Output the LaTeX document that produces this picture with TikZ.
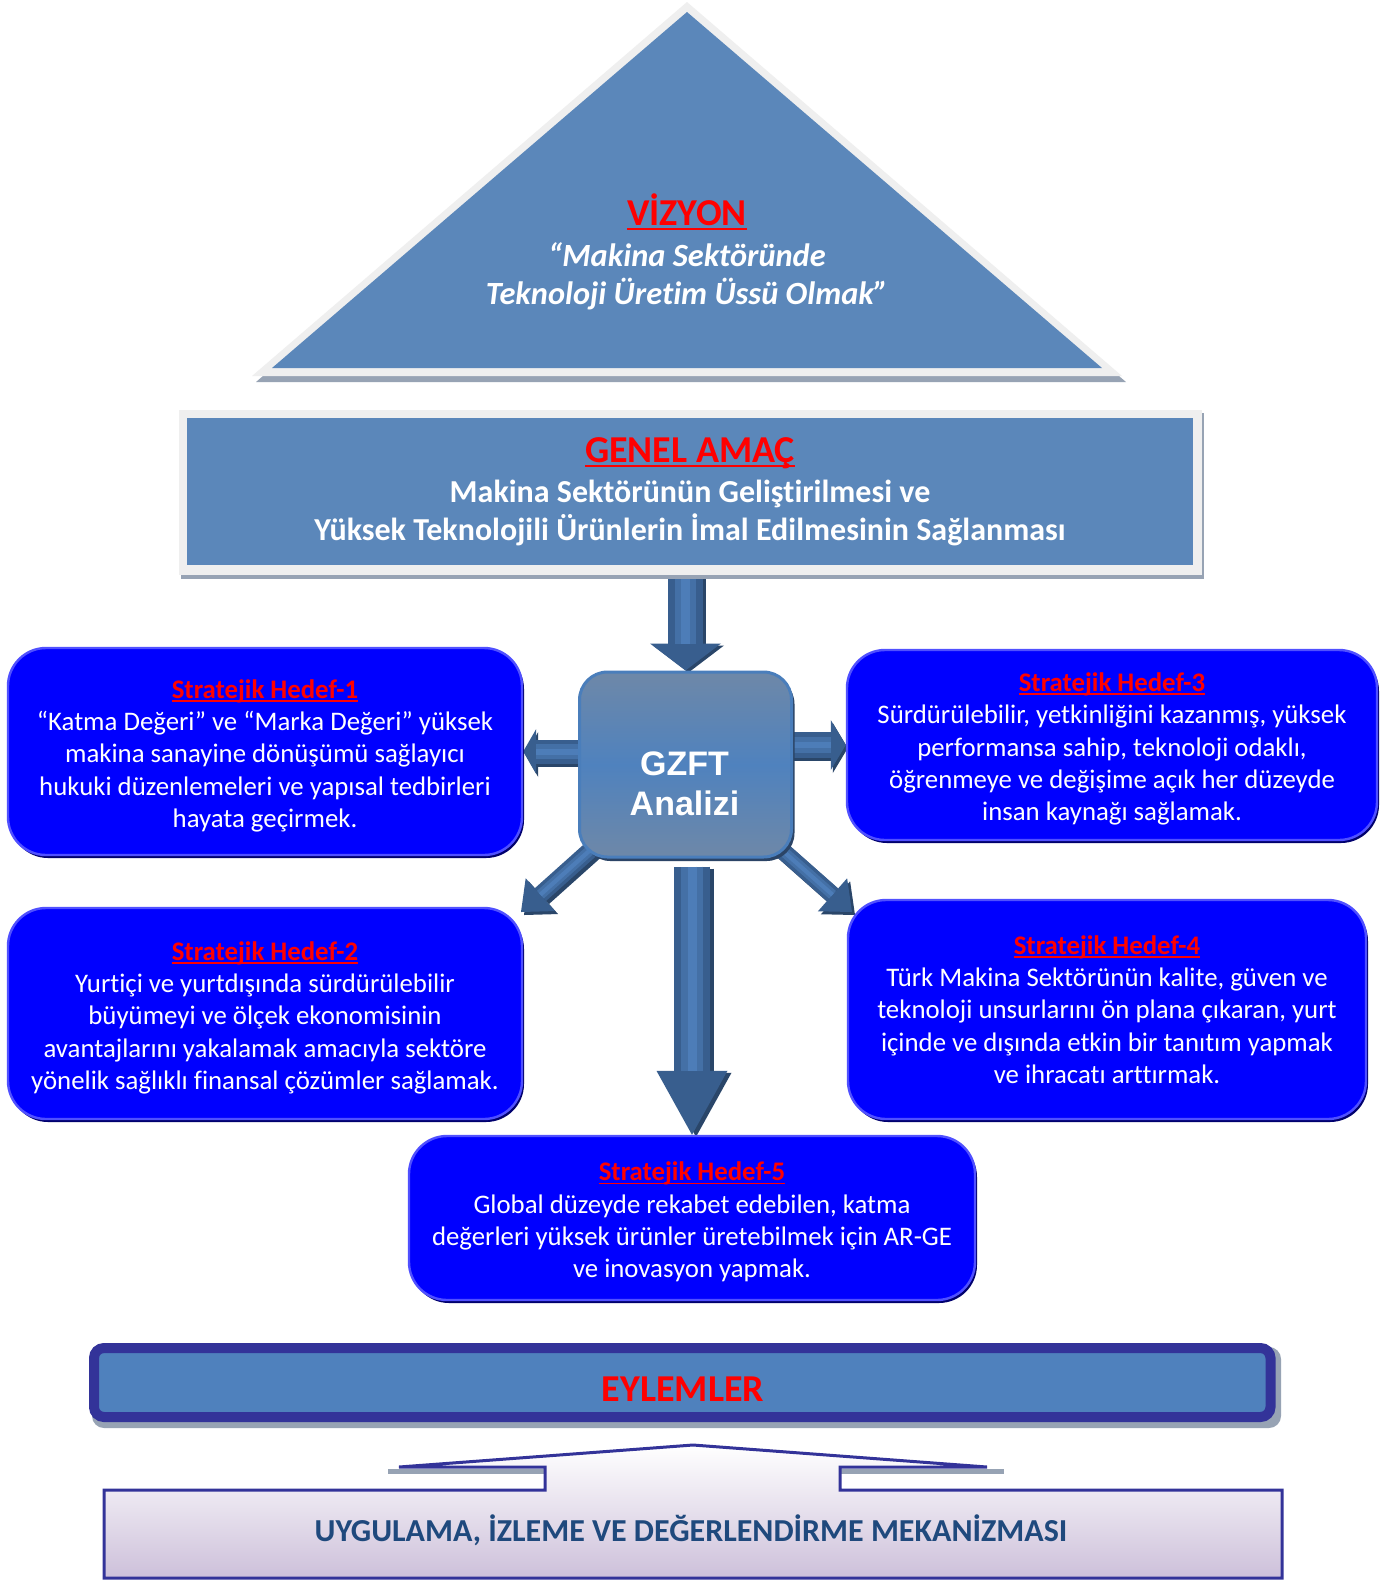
\documentclass[tikz,border=0pt]{standalone}
\usepackage{fontspec}
\setmainfont{Carlito}[Ligatures=NoCommon]
\newfontfamily\arialfont{Liberation Sans}
\usetikzlibrary{arrows.meta,shadows,calc}
\pgfdeclarelayer{bg}
\pgfsetlayers{bg,main}

\definecolor{tri}{HTML}{5B87BA}
\definecolor{bevel}{HTML}{EFEFEF}
\definecolor{shgray}{HTML}{97A3B4}
\definecolor{hb}{HTML}{0000FF}
\definecolor{hbedge}{HTML}{5050FF}
\definecolor{hbshadow}{HTML}{00006E}
\definecolor{arrdark}{HTML}{385E8E}
\definecolor{arrmid}{HTML}{4470A6}
\definecolor{arrlight}{HTML}{4D7DB8}
\definecolor{arrshadow}{HTML}{2A4669}
\definecolor{eylfill}{HTML}{4F81BD}
\definecolor{eylout}{HTML}{333399}
\definecolor{navytext}{HTML}{1F497D}
\definecolor{lav}{HTML}{CDC0DA}
\definecolor{gzedge}{HTML}{6E88A8}
\definecolor{gzmid}{HTML}{4F82BE}
\definecolor{gzline}{HTML}{4A7EBB}
\definecolor{gzshadow}{HTML}{2B4466}

\newcommand\myul[1]{\setbox0\hbox{#1}\leavevmode\rlap{\rule[-0.13em]{\wd0}{0.07em}}\box0}
\newcommand\toppush{\rule{0pt}{13.5pt}}

\newcommand\barrow[7]{%
  \draw[transform canvas={shift={(#7)}}, arrshadow, line width=#3, shorten <=#6,
        -{Triangle[width=#4,length=#5,line width=0pt]}] (#1) -- (#2);
  \draw[arrdark, line width=#3, shorten <=#6,
        -{Triangle[width=#4,length=#5,line width=0pt]}] (#1) -- (#2);
  \draw[arrmid, line width=0.6*#3, shorten <=#6, shorten >=#5] (#1) -- (#2);
  \draw[arrlight, line width=0.25*#3, shorten <=#6, shorten >=#5] (#1) -- (#2);
}

\begin{document}
\begin{tikzpicture}[x=0.5pt,y=-0.5pt,
  hedef/.style={draw=hbedge, line width=1.2pt, fill=hb, rounded corners=19pt,
    inner sep=0pt, text=white, align=center,
    font=\fontsize{13.4}{16.15}\selectfont,
    drop shadow={shadow xshift=1pt, shadow yshift=-1.5pt, fill=hbshadow, opacity=1}},
  redtitle/.style={text=red, font=\bfseries\fontsize{19}{23}\selectfont, inner sep=0pt},
  whitebody/.style={text=white, align=center, inner sep=0pt}
]
\useasboundingbox (0,0) rectangle (1388,1581);
\begin{pgfonlayer}{bg}
\fill[white] (0,0) rectangle (1388,1581);
\end{pgfonlayer}

% ---------- Vision triangle
\fill[shgray] (689,9) -- (1126,382) -- (256,382) -- cycle;
\fill[bevel] (687,2) -- (1122,376) -- (252,376) -- cycle;
\fill[tri] (687,12) -- (1102,368) -- (272,368) -- cycle;
\node[redtitle] (vtitle) at (687,212) {\myul{VİZYON}};
\node[whitebody, font=\bfseries\itshape\fontsize{16.2}{19}\selectfont] (vbody) at (687,276)
  {“Makina Sektöründe\\Teknoloji Üretim Üssü Olmak”};

% ---------- Genel amac
\fill[shgray] (181,413) rectangle (1204,579);
\fill[bevel] (179,410) rectangle (1202,575);
\node[fill=tri, minimum width=503pt, minimum height=73.5pt, inner sep=0pt] (genel) at (690,491.5) {};
\node[redtitle] (gtitle) at (690,453) {\myul{GENEL AMAÇ}};
\node[whitebody, font=\bfseries\fontsize{16}{19.3}\selectfont] (gbody) at (690,513)
  {Makina Sektörünün Geliştirilmesi ve\\Yüksek Teknolojili Ürünlerin İmal Edilmesinin Sağlanması};

% ---------- GZFT
\node[minimum width=106pt, minimum height=92.5pt, inner sep=0pt, rounded corners=14pt,
      top color=gzedge, bottom color=gzedge, middle color=gzmid, draw=gzline, line width=1.5pt,
      drop shadow={shadow xshift=1.5pt, shadow yshift=-2pt, fill=gzshadow, opacity=1}]
      (gzft) at (685.5,764.5) {};
\node[text=white, align=center, inner sep=0pt, font=\arialfont\bfseries\fontsize{17}{20}\selectfont]
      (gzlbl) at (684.5,784) {GZFT\\Analizi};

% ---------- Strategic goals
\node[hedef, minimum width=257pt, minimum height=103.5pt] (h1) at (265,751.5)
  {\toppush{\color{red}\myul{\textbf{Stratejik Hedef-1}}}\\
   “Katma Değeri” ve “Marka Değeri” yüksek\\
   makina sanayine dönüşümü sağlayıcı\\
   hukuki düzenlemeleri ve yapısal tedbirleri\\
   hayata geçirmek.};
\node[hedef, minimum width=257pt, minimum height=105.5pt] (h2) at (265,1013.5)
  {\toppush{\color{red}\myul{\textbf{Stratejik Hedef-2}}}\\
   Yurtiçi ve yurtdışında sürdürülebilir\\
   büyümeyi ve ölçek ekonomisinin\\
   avantajlarını yakalamak amacıyla sektöre\\
   yönelik sağlıklı finansal çözümler sağlamak.};
\node[hedef, minimum width=265pt, minimum height=95pt] (h3) at (1112,745)
  {\toppush{\color{red}\myul{\textbf{Stratejik Hedef-3}}}\\
   Sürdürülebilir, yetkinliğini kazanmış, yüksek\\
   performansa sahip, teknoloji odaklı,\\
   öğrenmeye ve değişime açık her düzeyde\\
   insan kaynağı sağlamak.};
\node[hedef, minimum width=259pt, minimum height=109.5pt] (h4) at (1107,1009.5)
  {{\color{red}\myul{\textbf{Stratejik Hedef-4}}}\\
   Türk Makina Sektörünün kalite, güven ve\\
   teknoloji unsurlarını ön plana çıkaran, yurt\\
   içinde ve dışında etkin bir tanıtım yapmak\\
   ve ihracatı arttırmak.};
\node[hedef, minimum width=283pt, minimum height=82pt] (h5) at (692,1218)
  {\toppush{\color{red}\myul{\textbf{Stratejik Hedef-5}}}\\
   Global düzeyde rekabet edebilen, katma\\
   değerleri yüksek ürünler üretebilmek için AR-GE\\
   ve inovasyon yapmak.};

\coordinate (t2) at (521,912);
\coordinate (t4) at (852,912);

% ---------- Arrows (behind)
\begin{pgfonlayer}{bg}
\barrow{genel.south -| gzft.north}{gzft.north}{17.5pt}{35.5pt}{13.5pt}{0pt}{1.5pt,-1pt}
\barrow{gzft.west |- h1.east}{h1.east}{12pt}{22.5pt}{6.5pt}{-6pt}{1pt,-1.5pt}
\barrow{gzft.east |- h3.west}{h3.west}{13pt}{25pt}{7.5pt}{-6pt}{1pt,-1.5pt}
\barrow{gzft}{t2}{8.5pt}{22pt}{13pt}{-8pt}{1.5pt,-1.5pt}
\barrow{gzft}{t4}{8.5pt}{22pt}{13pt}{-8pt}{1.5pt,-1.5pt}
\barrow{gzft.south -| h5.north}{h5.north}{18pt}{35.5pt}{32pt}{4pt}{2pt,-1pt}
\end{pgfonlayer}

% ---------- EYLEMLER
\fill[shgray, rounded corners=6pt] (92,1347) rectangle (1281,1428);
\node[fill=eylfill, draw=eylout, line width=5pt, rounded corners=5pt, inner sep=0pt,
      minimum width=588.25pt, minimum height=34.5pt] (eyl) at (682.25,1382.5) {};
\node[redtitle] (eyltxt) at (683,1389) {EYLEMLER};

% ---------- Bottom mechanism
\fill[shgray] (388,1469) rectangle (545,1474);
\fill[shgray] (840,1469) rectangle (1004,1474);
\shadedraw[top color=white, bottom color=lav, draw=eylout, line width=1.5pt]
  (104,1578) -- (104,1490) -- (545,1490) -- (545,1467) -- (399,1467) -- (693,1445)
  -- (987,1467) -- (840,1467) -- (840,1490) -- (1282,1490) -- (1282,1578) -- cycle;
\node[text=navytext, inner sep=0pt, font=\bfseries\fontsize{16}{18}\selectfont] (uyg) at (691,1530)
  {UYGULAMA, İZLEME VE DEĞERLENDİRME MEKANİZMASI};
\end{tikzpicture}
\end{document}
